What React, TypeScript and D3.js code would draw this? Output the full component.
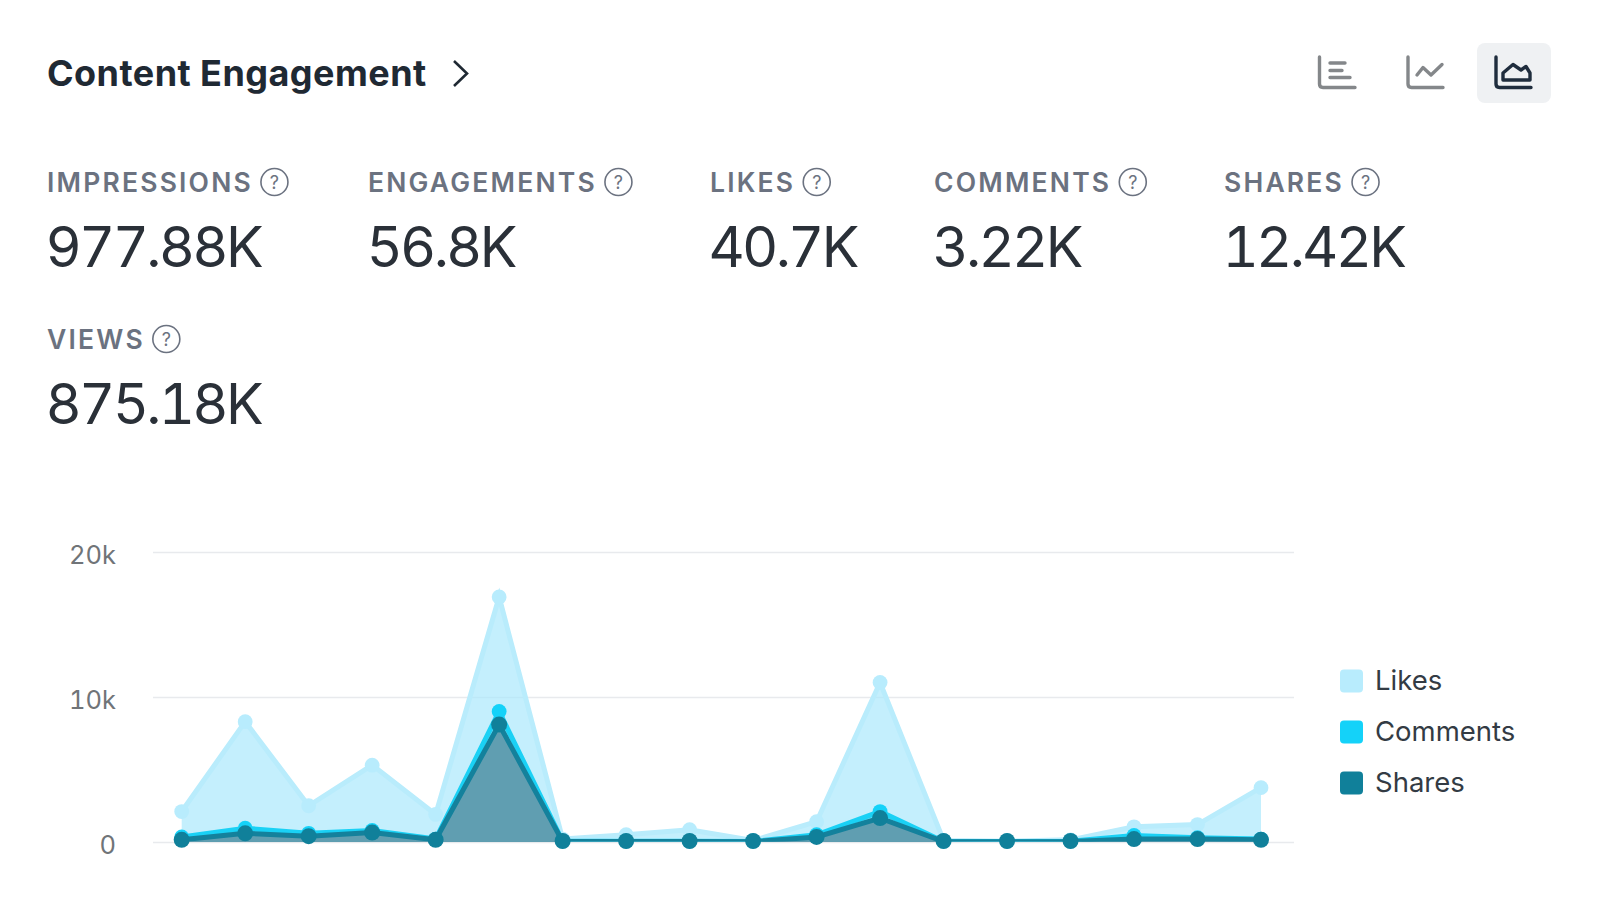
import * as d3 from "d3";
import { useEffect, useRef } from "react";

const days = d3.range(18).map((i) => `d${i + 1}`);

const sharesValues = [150, 600, 400, 650, 150, 8100, 30, 30, 30, 20, 350, 1650, 30, 20, 30, 200, 200, 150];
const commentsValues = [200, 350, 200, 150, 50, 900, 20, 20, 20, 10, 150, 450, 10, 10, 20, 250, 100, 50];
const likesValues = [1750, 7350, 1900, 4500, 1700, 7900, 150, 450, 800, 70, 900, 8900, 60, 20, 100, 600, 900, 3550];

const yTicks = [0, 10000, 20000];
const yTickLabels = ["0", "10k", "20k"];

const metricLabels = ["IMPRESSIONS", "ENGAGEMENTS", "LIKES", "COMMENTS", "SHARES", "VIEWS"];
const metricValues = ["977.88K", "56.8K", "40.7K", "3.22K", "12.42K", "875.18K"];

const seriesNames = ["Likes", "Comments", "Shares"];

const COLORS: Record<string, { line: string; dot: string; area: string; opacity: number; r: number }> = {
  Likes: { line: "#b9ecfc", dot: "#b8ecfd", area: "#a8e8fc", opacity: 0.68, r: 7.4 },
  Comments: { line: "#1ad1f5", dot: "#14d2f9", area: "#12d0f7", opacity: 0.6, r: 7.4 },
  Shares: { line: "#14819c", dot: "#10809a", area: "#14708c", opacity: 0.68, r: 8 },
};

const FONT = "Inter, 'Noto Sans', sans-serif";
const GREY = "#6b7280";
const DARK = "#1f2933";

// x of each metric column, first row then the second one
const metricX = [47, 368, 710, 934, 1224, 47];

const METRIC_ROWS = [
  { label: 192, value: 267 },
  { label: 349, value: 424 },
];

export default function App() {
  const svgRef = useRef<SVGSVGElement | null>(null);

  useEffect(() => {
    if (!svgRef.current) return;
    const svg = d3.select(svgRef.current);
    svg.selectAll("*").remove();

    renderHeader(svg);
    renderMetrics(svg);
    renderChart(svg);
    renderLegend(svg);
  }, []);

  return (
    <svg
      ref={svgRef}
      width={1600}
      height={900}
      viewBox="0 0 1600 900"
      style={{ position: "absolute", left: 0, top: 0, background: "#fff" }}
    />
  );
}

function renderHeader(svg: d3.Selection<SVGSVGElement, unknown, null, undefined>) {
  svg
    .append("text")
    .attr("x", 47)
    .attr("y", 86)
    .attr("font-family", FONT)
    .attr("font-size", 36)
    .attr("font-weight", 700)
    .attr("letter-spacing", 0.45)
    .attr("fill", DARK)
    .text("Content Engagement");

  svg
    .append("path")
    .attr("d", "M454,61L467,73.5L454,86")
    .attr("fill", "none")
    .attr("stroke", DARK)
    .attr("stroke-width", 2.6);

  // toolbar icons
  svg.append("rect").attr("x", 1477).attr("y", 43).attr("width", 74).attr("height", 60).attr("rx", 8).attr("fill", "#eff1f3");

  const icon = (d: string, color: string) =>
    svg
      .append("path")
      .attr("d", d)
      .attr("fill", "none")
      .attr("stroke", color)
      .attr("stroke-width", 3.4)
      .attr("stroke-linecap", "round")
      .attr("stroke-linejoin", "round");

  icon("M1319.5,57V84Q1319.5,87.5 1323,87.5H1355M1330,63H1345M1330,70.5H1342M1330,77.5H1350", "#84878a");
  icon("M1408,57V84Q1408,87.5 1411.5,87.5H1443M1417,75L1423,67.5L1431,75L1442,64.5", "#84878a");
  icon("M1496,57V84Q1496,87.5 1499.5,87.5H1531M1503,80V73L1513,64.5L1521,70L1526,66.5L1530,73V80Z", "#1f2d3d");
}

function renderMetrics(svg: d3.Selection<SVGSVGElement, unknown, null, undefined>) {
  const g = svg.append("g").attr("font-family", FONT);

  metricLabels.forEach((label, i) => {
    const row = METRIC_ROWS[i < 5 ? 0 : 1];
    const text = g
      .append("text")
      .attr("x", metricX[i])
      .attr("y", row.label)
      .attr("font-size", 26.5)
      .attr("font-weight", 600)
      .attr("letter-spacing", 2.2)
      .attr("fill", GREY)
      .text(label);

    const w = (text.node() as SVGTextElement).getComputedTextLength();
    const cx = metricX[i] + w + 21.5;
    const cy = row.label - 10;
    g.append("circle").attr("cx", cx).attr("cy", cy).attr("r", 13.5).attr("fill", "none").attr("stroke", GREY).attr("stroke-width", 1.6);
    g.append("text")
      .attr("x", cx)
      .attr("y", cy + 6.5)
      .attr("text-anchor", "middle")
      .attr("font-size", 18)
      .attr("fill", GREY)
      .text("?");

    g.append("text")
      .attr("x", metricX[i] - 1.5)
      .attr("y", row.value)
      .attr("font-size", 56)
      .attr("font-weight", 400)
      .attr("letter-spacing", -2.7)
      .attr("fill", "#2a3038")
      .style("font-feature-settings", "'tnum'")
      .text(metricValues[i]);
  });
}

function renderChart(svg: d3.Selection<SVGSVGElement, unknown, null, undefined>) {
  const x = d3.scalePoint<string>().domain(days).range([181.7, 1261]);
  const y = d3.scaleLinear().domain([0, 20000]).range([842, 552]);

  const rows = days.map((day, i) => ({
    day,
    Shares: sharesValues[i],
    Comments: commentsValues[i],
    Likes: likesValues[i],
  }));

  // stacked bottom up: shares, comments, likes
  const stacked = d3.stack<any>().keys(["Shares", "Comments", "Likes"])(rows);

  svg
    .append("g")
    .call(
      d3
        .axisLeft(y)
        .tickValues(yTicks)
        .tickSize(0)
        .tickPadding(37)
        .tickFormat((_, i) => yTickLabels[i])
    )
    .attr("transform", "translate(153,0)")
    .call((g) => g.select(".domain").remove())
    .call((g) =>
      g
        .selectAll(".tick text")
        .attr("fill", "#707478")
        .attr("font-family", FONT)
        .attr("font-size", 25.5)
        .attr("dy", 11)
        .style("font-feature-settings", "'tnum'")
    )
    .call((g) =>
      g
        .selectAll(".tick line")
        .attr("x2", 1294 - 153)
        .attr("stroke", "#e8eaed")
        .attr("stroke-width", 1.5)
    );

  // the plot is cut just above the axis, so flat stretches at zero look thin
  svg
    .append("clipPath")
    .attr("id", "plot-clip")
    .append("rect")
    .attr("x", 150)
    .attr("y", 540)
    .attr("width", 1150)
    .attr("height", 301.5);

  const area = d3
    .area<d3.SeriesPoint<any>>()
    .x((d) => x(d.data.day) as number)
    .y0((d) => y(d[0]))
    .y1((d) => y(d[1]));

  const line = d3
    .line<d3.SeriesPoint<any>>()
    .x((d) => x(d.data.day) as number)
    .y((d) => y(d[1]));

  // likes first so the darker series end up on top
  [...stacked].reverse().forEach((layer) => {
    const c = COLORS[layer.key];
    const g = svg.append("g").attr("class", `series-${layer.key}`);
    g.append("path").attr("d", area(layer)).attr("fill", c.area).attr("fill-opacity", c.opacity);
    g.append("path")
      .attr("d", line(layer))
      .attr("fill", "none")
      .attr("stroke", c.line)
      .attr("stroke-width", 5)
      .attr("clip-path", "url(#plot-clip)");
    g.selectAll("circle")
      .data(layer)
      .join("circle")
      .attr("cx", (d) => x(d.data.day) as number)
      .attr("cy", (d) => Math.min(y(d[1]), 841))
      .attr("r", c.r)
      .attr("fill", c.dot);
  });
}

function renderLegend(svg: d3.Selection<SVGSVGElement, unknown, null, undefined>) {
  const legend = svg.append("g").attr("font-family", FONT);
  const rowY = d3.scalePoint<string>().domain(seriesNames).range([681, 783]);

  seriesNames.forEach((name) => {
    const cy = rowY(name) as number;
    legend
      .append("rect")
      .attr("x", 1340)
      .attr("y", cy - 11.5)
      .attr("width", 23)
      .attr("height", 23)
      .attr("rx", 4)
      .attr("fill", COLORS[name].dot);
    legend
      .append("text")
      .attr("x", 1375)
      .attr("y", cy + 9)
      .attr("font-size", 27.5)
      .attr("fill", "#333b44")
      .text(name);
  });
}
